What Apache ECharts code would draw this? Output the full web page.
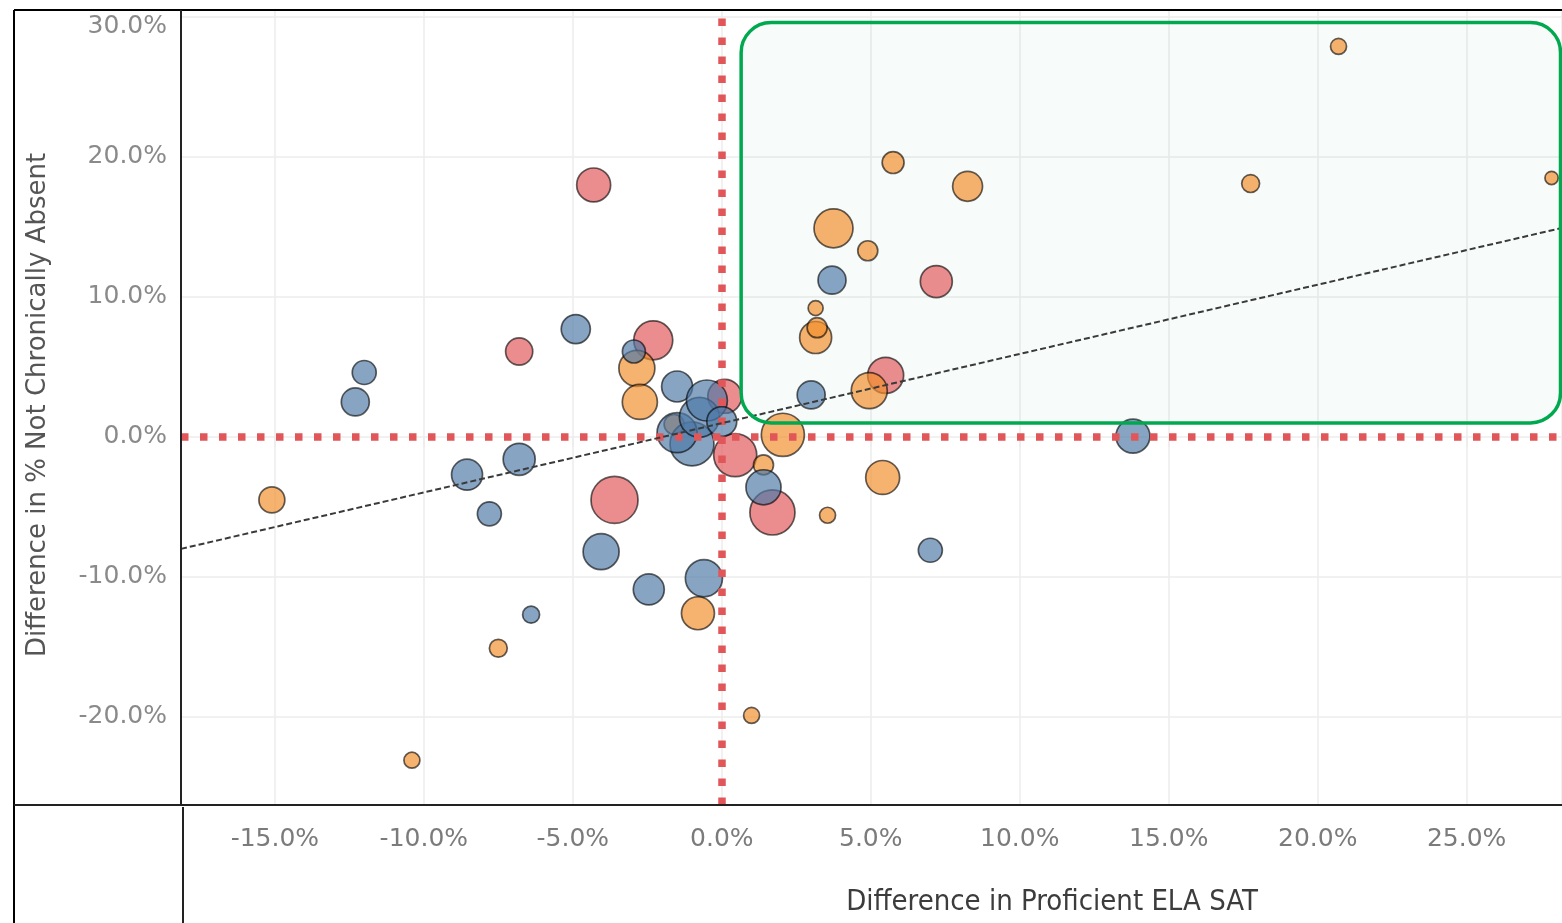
<!DOCTYPE html>
<html><head><meta charset="utf-8">
<script src="https://cdn.jsdelivr.net/npm/echarts@6/dist/echarts.min.js"></script>
<style>html,body{margin:0;padding:0;background:#fff}#c{width:1562px;height:923px}</style>
</head><body><div id="c"></div>
<script>
// ---- data (percent units): [x = Difference in Proficient ELA SAT, y = Difference in % Not Chronically Absent, size measure]
const orangeSchools = [
  [-15.1,-4.5,42],[-10.4,-23.1,16],[-7.5,-15.1,20],[-2.85,4.9,81],[-2.75,2.5,77],
  [-0.8,-12.6,68],[1.0,-19.9,16],[-1.6,0.9,25],[1.4,-2.0,25],[3.55,-5.6,16],
  [5.4,-2.9,72],[3.15,7.1,64],[3.2,7.8,25],[3.15,9.2,14],[3.75,14.9,95],
  [4.9,13.3,25],[5.75,19.6,30],[8.25,17.9,56],[4.95,3.3,81],[17.75,18.1,20],
  [20.7,27.9,16],[27.85,18.5,11],[2.05,0.15,116]
];
const redSchools = [
  [-4.3,18.0,72],[-6.8,6.1,46],[-2.3,6.9,95],[-3.6,-4.5,138],[0.1,2.9,72],
  [0.45,-1.3,116],[1.7,-5.4,127],[5.5,4.4,81],[7.2,11.1,64]
];
const blueSchools = [
  [-12.0,4.6,36],[-12.3,2.5,49],[-8.55,-2.7,60],[-7.8,-5.5,36],[-6.8,-1.6,64],
  [-6.4,-12.7,18],[-4.9,7.7,53],[-4.05,-8.2,81],[-2.45,-10.9,60],[-2.95,6.1,33],
  [-1.5,3.6,60],[-0.6,-10.1,86],[1.4,-3.6,77],[3.0,3.0,49],[3.7,11.2,49],
  [7.0,-8.1,36],[13.8,0.05,72],[-1.0,-0.5,121],[-1.5,0.3,100],[-0.75,1.4,100],
  [-0.5,2.6,105],[0.0,1.1,56]
];
const trendX = [-18.15, 28.2];
const trendY = [-8.0, 14.93];
const xTicks = [-15,-10,-5,0,5,10,15,20,25];
const yTicks = [-20,-10,0,10,20,30];
const xRange = [-18.15, 28.2];
const yRange = [-26.3, 30.5];
const highlightX = [0.65, 28.15];
const highlightY = [1.0, 29.6];
const xTitle = 'Difference in Proficient ELA SAT';
const yTitle = 'Difference in % Not Chronically Absent';

const chart = echarts.init(document.getElementById('c'), null, {renderer:'canvas'});
const fmt = v => v.toFixed(1) + '%';
const inList = (list, v) => list.some(t => Math.abs(t - v) < 1e-6);
const bubbleSize = d => 4 * Math.sqrt(d[2]);
function bubbles(name, data, color){
  return {
    name, type:'scatter', data, symbolSize: bubbleSize, z: 3,
    itemStyle:{color, opacity:0.68, borderColor:'rgba(0,0,0,0.9)', borderWidth:1.7},
    emphasis:{disabled:true}
  };
}
const yMaxTick = yTicks[yTicks.length - 1];
const option = {
  animation:false,
  backgroundColor:'#fff',
  grid:{left:181, top:10, right:0, bottom:118, containLabel:false},
  xAxis:{
    type:'value', min:xRange[0], max:xRange[1], minInterval:5, maxInterval:5,
    axisLine:{show:false},
    axisTick:{show:true, length:10, lineStyle:{color:'#ececec', width:1.5}},
    splitLine:{show:true, lineStyle:{color:'#ececec', width:1.5}},
    axisLabel:{show:true, margin:22, color:'#7b7b7b', fontFamily:'DejaVu Sans', fontSize:25,
      showMinLabel:false, showMaxLabel:false,
      formatter: v => inList(xTicks, v) ? fmt(v) : ''}
  },
  yAxis:{
    type:'value', min:yRange[0], max:yRange[1], minInterval:10, maxInterval:10,
    axisLine:{show:false}, axisTick:{show:false},
    splitLine:{show:true, lineStyle:{color:'#ececec', width:1.5}},
    axisLabel:{show:true, margin:14, color:'#8a8a8a', fontFamily:'DejaVu Sans', fontSize:25,
      showMinLabel:false, showMaxLabel:false,
      rich:{top:{padding:[20,0,0,0], color:'#8a8a8a', fontFamily:'DejaVu Sans', fontSize:25}},
      formatter: v => !inList(yTicks, v) ? '' : (Math.abs(v - yMaxTick) < 1e-6 ? '{top|' + fmt(v) + '}' : fmt(v))}
  },
  series:[
    {
      type:'scatter', data:[], silent:true, z:1,
      markLine:{
        silent:true, symbol:['none','none'], animation:false,
        label:{show:false},
        lineStyle:{color:'#e15759', width:7.5, type:[7.5,11.5], cap:'butt', opacity:1},
        data:[{xAxis:0},{yAxis:0}]
      }
    },
    bubbles('Red', redSchools, '#e15759'),
    bubbles('Orange', orangeSchools, '#f28e2b'),
    bubbles('Blue', blueSchools, '#4e79a7'),
    {
      name:'Trend', type:'line', data: trendX.map((x,i)=>[x, trendY[i]]),
      symbol:'none', silent:true, z:5,
      lineStyle:{color:'#3a3a3a', width:2, type:[6,3]}
    }
  ]
};
chart.setOption(option);

const p1 = chart.convertToPixel({gridIndex:0}, [highlightX[0], highlightY[1]]);
const p2 = chart.convertToPixel({gridIndex:0}, [highlightX[1], highlightY[0]]);
const boxShape = {x:p1[0], y:p1[1], width:p2[0]-p1[0], height:p2[1]-p1[1], r:30};
chart.setOption({
  graphic:[
    {type:'rect', z:1, silent:true, shape:boxShape, style:{fill:'rgba(0,170,80,0.03)', stroke:null}},
    {type:'rect', z:50, silent:true, shape:boxShape, style:{fill:null, stroke:'#00a94f', lineWidth:3.5}},
    // frame lines
    {type:'line', z:60, shape:{x1:14, y1:10, x2:1562, y2:10}, style:{stroke:'#000', lineWidth:2}},
    {type:'line', z:60, shape:{x1:14, y1:10, x2:14, y2:923}, style:{stroke:'#000', lineWidth:2}},
    {type:'line', z:60, shape:{x1:181, y1:10, x2:181, y2:805}, style:{stroke:'#222', lineWidth:2}},
    {type:'line', z:60, shape:{x1:14, y1:805, x2:1562, y2:805}, style:{stroke:'#222', lineWidth:2}},
    {type:'line', z:60, shape:{x1:183, y1:807, x2:183, y2:923}, style:{stroke:'#222', lineWidth:2}},
    {type:'text', z:60, x:1052, y:902, style:{text:xTitle, align:'center', verticalAlign:'middle',
      fill:'#3c3c3c', font:'29px "Liberation Sans Narrow", "DejaVu Sans Condensed", sans-serif'}},
    {type:'text', z:60, x:38, y:405, rotation:Math.PI/2, style:{text:yTitle, align:'center', verticalAlign:'middle',
      fill:'#555', font:'26px "DejaVu Sans", sans-serif'}}
  ]
});
</script></body></html>
